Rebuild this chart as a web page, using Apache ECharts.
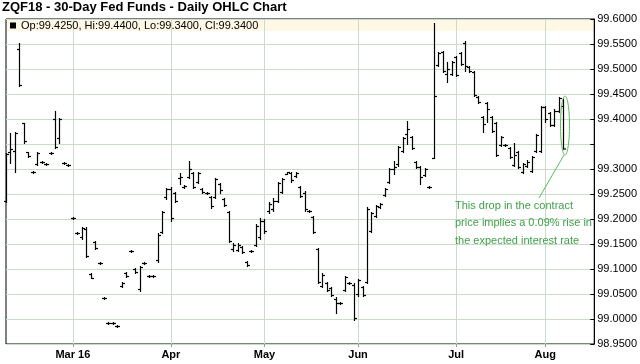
<!DOCTYPE html>
<html><head><meta charset="utf-8">
<script src="https://cdn.jsdelivr.net/npm/echarts@6/dist/echarts.min.js"></script>
<style>html,body{margin:0;padding:0;background:#fff}#c{width:640px;height:364px}</style>
</head><body><div id="c"></div>
<script>
// ---- trading days (categories) ----
const febDays = [8,9,10,11,12,16,17,18,19,22,23,24,25,26,29];
const marDays = [1,2,3,4,7,8,9,10,11,14,15,16,17,18,21,22,23,24,28,29,30,31];
const aprDays = [1,4,5,6,7,8,11,12,13,14,15,18,19,20,21,22,25,26,27,28,29];
const mayDays = [2,3,4,5,6,9,10,11,12,13,16,17,18,19,20,23,24,25,26,27,31];
const junDays = [1,2,3,6,7,8,9,10,13,14,15,16,17,20,21,22,23,24,27,28,29,30];
const julDays = [1,5,6,7,8,11,12,13,14,15,18,19,20,21,22,25,26,27,28,29];
const augDays = [1,2,3,4,5,8,9,10,11,12,15,16]; // last 7 are empty space
const pad = n => (n < 10 ? '0' : '') + n;
const dates = [];
[[2,febDays],[3,marDays],[4,aprDays],[5,mayDays],[6,junDays],[7,julDays],[8,augDays]].forEach(([m, ds]) =>
  ds.forEach(d => dates.push('2016-' + pad(m) + '-' + pad(d))));

// ---- tick labels ----
const monthTicks = ['2016-03-01','2016-04-01','2016-05-02','2016-06-01','2016-07-01','2016-08-01'];
const monthLabels = ['Mar 16','Apr','May','Jun','Jul','Aug'];

// ---- OHLC values ----
const open = [99.235,99.333,99.335,99.539,99.391,99.333,99.293,99.309,99.313,99.309,99.331,99.399,99.361,99.311,99.307,
99.201,99.171,99.163,99.179,99.089,99.153,99.111,99.041,98.991,98.991,98.985,99.065,99.091,99.135,99.099,99.059,99.111,99.085,99.085,99.117,99.173,99.243,
99.259,99.251,99.281,99.263,99.283,99.291,99.273,99.259,99.251,99.243,99.243,99.269,99.239,99.213,99.139,99.137,99.143,99.113,99.135,99.147,99.163,
99.195,99.215,99.219,99.235,99.253,99.289,99.291,99.285,99.263,99.251,99.215,99.203,99.139,99.065,99.071,99.061,99.039,99.031,99.057,99.071,99.067,
99.049,99.063,99.073,99.175,99.205,99.223,99.247,99.273,99.299,99.309,99.335,99.369,99.363,99.313,99.303,99.287,99.263,99.321,99.507,99.533,99.489,99.489,
99.523,99.531,99.551,99.503,99.493,99.443,99.403,99.431,99.403,99.391,99.347,99.347,99.341,99.307,99.333,99.293,99.305,99.295,99.335,99.335,
99.423,99.411,99.387,99.415,99.425];
const high = [99.331,99.371,99.373,99.551,99.391,99.333,99.295,99.333,99.315,99.311,99.333,99.415,99.401,99.313,99.309,
99.203,99.173,99.183,99.183,99.091,99.155,99.113,99.043,98.993,98.993,98.987,99.073,99.093,99.137,99.101,99.105,99.113,99.087,99.087,99.171,99.215,99.261,
99.263,99.253,99.291,99.267,99.315,99.293,99.293,99.261,99.253,99.245,99.281,99.271,99.241,99.215,99.151,99.151,99.145,99.115,99.137,99.189,99.201,
99.199,99.233,99.241,99.273,99.281,99.293,99.293,99.293,99.265,99.255,99.217,99.205,99.141,99.091,99.073,99.063,99.043,99.033,99.085,99.073,99.071,
99.079,99.065,99.223,99.213,99.227,99.231,99.261,99.301,99.315,99.345,99.363,99.395,99.365,99.315,99.305,99.301,99.265,99.591,99.533,99.535,99.513,99.515,
99.525,99.533,99.555,99.505,99.495,99.445,99.405,99.433,99.405,99.393,99.365,99.349,99.343,99.351,99.335,99.311,99.317,99.325,99.369,99.425,
99.425,99.413,99.419,99.443,99.440];
const low = [99.233,99.311,99.293,99.465,99.351,99.323,99.291,99.307,99.311,99.307,99.329,99.341,99.351,99.309,99.305,
99.199,99.169,99.159,99.123,99.081,99.139,99.109,99.039,98.989,98.989,98.983,99.063,99.083,99.133,99.091,99.055,99.109,99.083,99.083,99.113,99.171,99.239,
99.195,99.233,99.269,99.261,99.281,99.261,99.271,99.251,99.249,99.221,99.241,99.251,99.225,99.153,99.135,99.135,99.131,99.105,99.133,99.145,99.159,
99.171,99.211,99.215,99.233,99.251,99.289,99.273,99.283,99.243,99.215,99.213,99.171,99.071,99.063,99.055,99.045,99.011,99.029,99.055,99.069,98.997,
99.045,99.045,99.071,99.173,99.203,99.221,99.245,99.271,99.289,99.305,99.333,99.349,99.339,99.301,99.269,99.285,99.261,99.321,99.505,99.493,99.473,99.487,
99.485,99.507,99.495,99.493,99.445,99.431,99.373,99.393,99.373,99.325,99.345,99.345,99.321,99.305,99.301,99.291,99.303,99.293,99.333,99.333,
99.393,99.385,99.385,99.413,99.340];
const close = [99.329,99.339,99.371,99.467,99.355,99.325,99.293,99.331,99.313,99.309,99.331,99.343,99.399,99.311,99.307,
99.201,99.171,99.181,99.125,99.081,99.141,99.111,99.041,98.991,98.991,98.985,99.071,99.085,99.135,99.093,99.103,99.111,99.085,99.085,99.167,99.213,99.259,
99.201,99.235,99.283,99.265,99.299,99.263,99.291,99.253,99.251,99.225,99.279,99.257,99.227,99.155,99.147,99.147,99.133,99.107,99.135,99.185,99.195,
99.175,99.229,99.235,99.271,99.279,99.293,99.277,99.291,99.245,99.219,99.215,99.173,99.073,99.087,99.057,99.047,99.031,99.031,99.083,99.071,99.001,
99.077,99.047,99.219,99.211,99.225,99.229,99.259,99.299,99.303,99.343,99.361,99.379,99.341,99.303,99.283,99.299,99.263,99.445,99.531,99.495,99.499,99.513,
99.487,99.509,99.505,99.495,99.447,99.433,99.389,99.419,99.375,99.327,99.363,99.347,99.323,99.327,99.303,99.309,99.313,99.323,99.367,99.423,
99.399,99.387,99.415,99.441,99.340];

const last = open.length - 1;
const gridColor = '#c9dcc9';
const font = 'Arial, "Liberation Sans", sans-serif';
const G = {left: 6, right: 44, top: 19, bottom: 20};

const ohlcData = open.map((o, i) => [i, o, high[i], low[i], close[i]]);
const tickSet = new Set(monthTicks);
const isMonth = (idx, val) => tickSet.has(val !== undefined ? val : dates[idx]);

const chart = echarts.init(document.getElementById('c'), null, {renderer: 'canvas'});
const option = {
  animation: false,
  backgroundColor: '#fff',
  title: {
    text: 'ZQF18 - 30-Day Fed Funds - Daily OHLC Chart',
    left: 2, top: 1, padding: 0,
    textStyle: {fontFamily: font, fontSize: 13, fontWeight: 'bold', color: '#000'}
  },
  grid: {left: G.left, right: G.right, top: G.top, bottom: G.bottom, show: true,
         borderColor: '#000', borderWidth: 1, backgroundColor: 'transparent'},
  xAxis: {
    type: 'category', data: dates, boundaryGap: false,
    axisLine: {show: false},
    axisTick: {show: true, interval: (i, v) => isMonth(i, v), length: 3, lineStyle: {color: '#9a9a9a'}},
    axisLabel: {interval: (i, v) => isMonth(i, v), margin: 5,
      formatter: v => monthLabels[monthTicks.indexOf(v)] || '',
      fontFamily: font, fontSize: 11, fontWeight: 'bold', color: '#000'},
    splitLine: {show: true, interval: (i, v) => isMonth(i, v), lineStyle: {color: gridColor, width: 1}}
  },
  yAxis: {
    type: 'value', position: 'right', min: 98.95, max: 99.60, interval: 0.05,
    axisLine: {show: true, lineStyle: {color: '#000'}},
    axisTick: {show: true, inside: true, length: 4, lineStyle: {color: '#000'}},
    axisLabel: {margin: 3, fontFamily: font, fontSize: 11, color: '#000',
      formatter: v => Math.abs(v - close[last]) < 0.015 ? '' : v.toFixed(4)},
    splitLine: {show: true, lineStyle: {color: gridColor, width: 1}}
  },
  series: [{
    type: 'custom',
    data: ohlcData,
    encode: {x: 0, y: [1, 2, 3, 4]},
    z: 5,
    renderItem: (params, api) => {
      const idx = api.value(0);
      const p = api.coord([idx, api.value(1)]);
      const x = Math.round(p[0]) + 0.5;
      const yo = api.coord([idx, api.value(1)])[1];
      const yh = api.coord([idx, api.value(2)])[1];
      const yl = api.coord([idx, api.value(3)])[1];
      const yc = api.coord([idx, api.value(4)])[1];
      const st = {stroke: '#000', lineWidth: 1.2};
      return {type: 'group', children: [
        {type: 'line', shape: {x1: x, y1: yh - 0.5, x2: x, y2: yl + 0.5}, style: st},
        {type: 'line', shape: {x1: x - 2.5, y1: yo, x2: x, y2: yo}, style: st},
        {type: 'line', shape: {x1: x, y1: yc, x2: x + 2.5, y2: yc}, style: st}
      ]};
    },
    markLine: {
      silent: true, symbol: 'none', animation: false,
      data: [{yAxis: close[last]}],
      lineStyle: {opacity: 0},
      label: {show: true, position: 'end', distance: 2, formatter: () => close[last].toFixed(4),
        backgroundColor: '#000', color: '#fff', padding: [1, 1, 0, 1],
        fontFamily: font, fontSize: 11}
    }
  }]
};
chart.setOption(option);

// ---- legend band + annotation (positions derived from the axes) ----
const pTop = chart.convertToPixel({gridIndex: 0}, [dates[0], 99.60]);
const pH = chart.convertToPixel({gridIndex: 0}, [dates[last], high[last]]);
const pL = chart.convertToPixel({gridIndex: 0}, [dates[last], low[last]]);
const cx = Math.round(pH[0]) + 2;
const eTop = pH[1] - 3, eBot = pL[1] + 6;
const green = '#3f9f47';
const legendText = 'Op:' + open[last].toFixed(4) + ', Hi:' + high[last].toFixed(4) +
                   ', Lo:' + low[last].toFixed(4) + ', Cl:' + close[last].toFixed(4);
chart.setOption({
  graphic: [
    {type: 'rect', z: -1, silent: true,
     shape: {x: G.left + 0.5, y: pTop[1] + 0.5, width: 640 - G.left - G.right - 1, height: 11.5},
     style: {fill: '#fff8e6'}},
    {type: 'rect', z: 10, silent: true, shape: {x: 10, y: pTop[1] + 3.5, width: 6, height: 6}, style: {fill: '#000'}},
    {type: 'text', z: 10, silent: true, x: 21, y: pTop[1] + 1,
     style: {text: legendText, font: '11px ' + font, fill: '#000'}},
    {type: 'ellipse', z: 10, silent: true,
     shape: {cx: cx, cy: (eTop + eBot) / 2, rx: 4.5, ry: (eBot - eTop) / 2},
     style: {fill: 'none', stroke: '#5cb85c', lineWidth: 1}},
    {type: 'line', z: 10, silent: true,
     shape: {x1: cx - 1, y1: eBot, x2: cx - 26, y2: eBot + 43},
     style: {stroke: '#5cb85c', lineWidth: 1}},
    {type: 'text', z: 10, silent: true, x: cx - 110, y: eBot + 42,
     style: {text: 'This drop in the contract\nprice implies a 0.09% rise in\nthe expected interest rate',
             font: '11px ' + font, fill: green, lineHeight: 17.5}}
  ]
});
</script>
</body></html>
